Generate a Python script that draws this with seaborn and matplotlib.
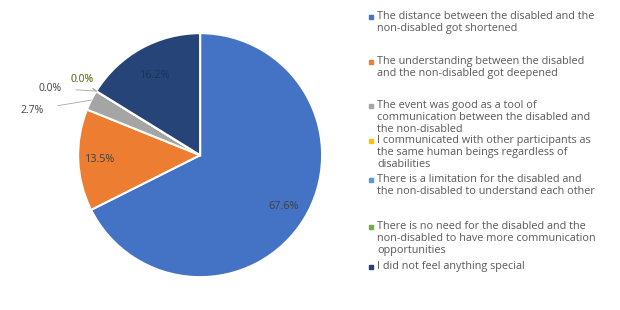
import numpy as np
import matplotlib
matplotlib.use("Agg")
import matplotlib.pyplot as plt
import seaborn as sns
from matplotlib.patches import Rectangle

# data (37 answers)
answers = [
    "The distance between the disabled and the\nnon-disabled got shortened",
    "The understanding between the disabled\nand the non-disabled got deepened",
    "The event was good as a tool of\ncommunication between the disabled and\nthe non-disabled",
    "I communicated with other participants as\nthe same human beings regardless of\ndisabilities",
    "There is a limitation for the disabled and\nthe non-disabled to understand each other",
    "There is no need for the disabled and the\nnon-disabled to have more communication\nopportunities",
    "I did not feel anything special",
]
shares = [67.6, 13.5, 2.7, 0.0, 0.0, 0.0, 16.2]
colors = ["#4472C4", "#ED7D31", "#A5A5A5", "#FFC000", "#5B9BD5", "#70AD47", "#264478"]

sns.set_theme(style="white")
plt.rcParams["font.family"] = ["Open Sans", "DejaVu Sans"]
pal = sns.color_palette(colors)

fig = plt.figure(figsize=(6.2, 3.1), dpi=100)
ax = fig.add_axes([0.126, 0.106, 0.3935, 0.787])

wedges, _ = ax.pie(shares, colors=pal, startangle=90, counterclock=False,
                   wedgeprops=dict(edgecolor="white", linewidth=1.5))
ax.set_xlim(-1, 1)
ax.set_ylim(-1, 1)
ax.set_aspect("equal")

txt = "#404040"
# labels inside the big slices
for i, r in [(0, 0.8), (1, 0.82), (6, 0.75)]:
    w = wedges[i]
    mid = np.deg2rad((w.theta1 + w.theta2) / 2)
    ax.text(r * np.cos(mid), r * np.sin(mid), f"{shares[i]:.1f}%",
            ha="center", va="center", fontsize=7.8,
            color=txt if i != 6 else "#1c3158")

# small slices: labels outside with leader lines
outside = {2: (-1.38, 0.37), 3: (-1.23, 0.55), 4: (-0.97, 0.62), 5: (-0.97, 0.62)}
lab_col = {2: txt, 3: txt, 4: "#7a8a3a", 5: "#7a8a3a"}
for i, (lx, ly) in outside.items():
    w = wedges[i]
    mid = np.deg2rad((w.theta1 + w.theta2) / 2)
    ex, ey = np.cos(mid), np.sin(mid)
    ax.annotate(f"{shares[i]:.1f}%", xy=(ex, ey), xytext=(lx, ly),
                ha="center", va="center", fontsize=7.5, color=lab_col[i],
                arrowprops=dict(arrowstyle="-", color="#A5A5A5", lw=0.6,
                                shrinkA=8, shrinkB=0),
                annotation_clip=False)

# legend, placed by hand to keep the uneven spacing
legend_top = [17, 62, 106, 141, 180, 227, 267]
for y, lab, c in zip(legend_top, answers, pal):
    fy = 1 - y / 310
    fig.patches.append(Rectangle((369 / 620, fy - 2 / 310), 4 / 620, 4 / 310,
                                 transform=fig.transFigure, color=c, figure=fig))
    fig.text(377 / 620, fy + 6 / 310, lab, ha="left", va="top",
             fontsize=7.8, color="#595959", linespacing=1.12)

fig.savefig("out.png", dpi=100, facecolor="white")
